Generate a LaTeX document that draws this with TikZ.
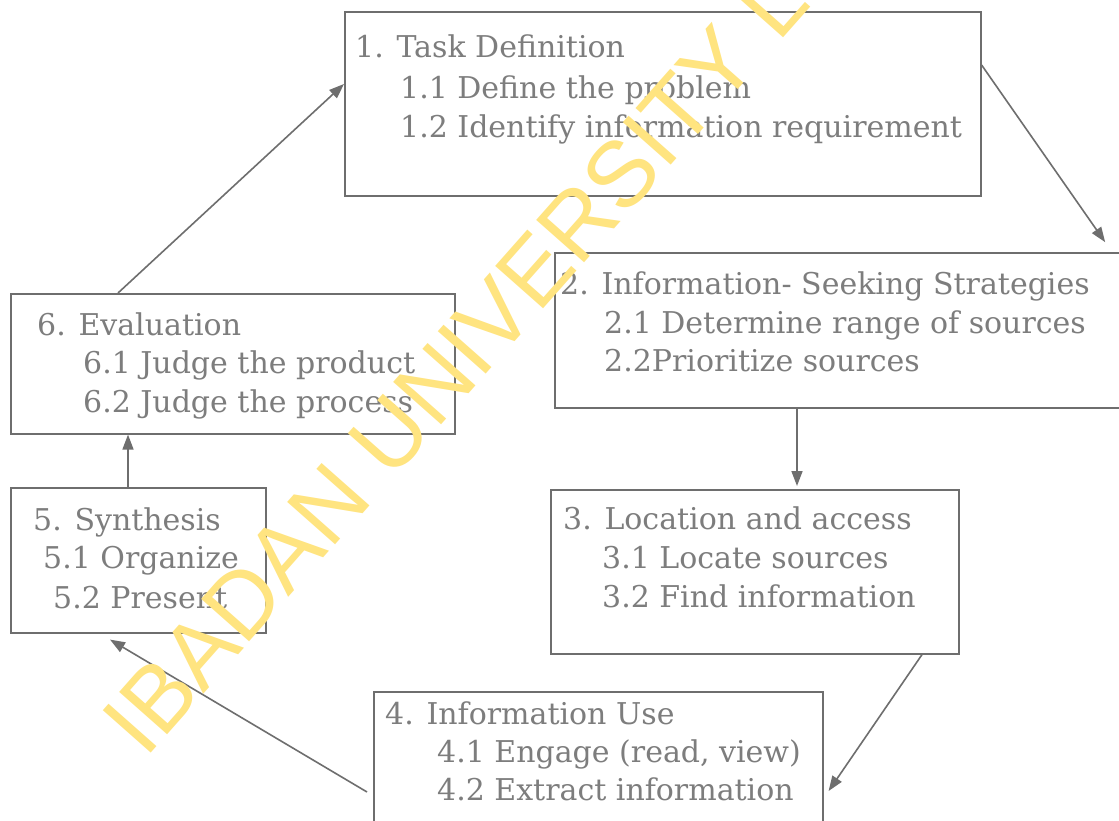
\documentclass[tikz,border=0pt]{standalone}
\usepackage{fontspec}
\setmainfont{DejaVu Serif}
\newfontfamily\wmfont{Liberation Sans}
\usetikzlibrary{calc,arrows.meta}
\definecolor{txtgray}{RGB}{125,125,125}
\definecolor{linegray}{RGB}{110,110,110}
\definecolor{wmyellow}{RGB}{255,228,128}
\begin{document}
\begin{tikzpicture}[x=1pt,y=-1pt,
  box/.style={draw=linegray,line width=1.6pt,inner sep=0pt,anchor=north west},
  txt/.style={text=txtgray,inner sep=0pt,anchor=base west,font=\fontsize{30}{30}\selectfont},
  arr/.style={draw=linegray,line width=1.6pt,-{Triangle[length=15pt,width=11pt]}},
  wm/.style={text=wmyellow,inner sep=0pt,anchor=base west,rotate=48.5,font=\wmfont\fontsize{93}{93}\selectfont}
]
\useasboundingbox (0,0) rectangle (1119,821);
\clip (0,0) rectangle (1119,821);
\fill[white] (0,0) rectangle (1119,821);
% boxes
\node[box,minimum width=636pt,minimum height=184pt] (b1) at (344,11) {};
\node[box,minimum width=572pt,minimum height=155pt] (b2) at (554,252) {};
\node[box,minimum width=408pt,minimum height=164pt] (b3) at (550,489) {};
\node[box,minimum width=449pt,minimum height=144pt] (b4) at (373,691) {};
\node[box,minimum width=255pt,minimum height=145pt] (b5) at (10,487) {};
\node[box,minimum width=444pt,minimum height=140pt] (b6) at (10,293) {};
% texts
\node[txt] (t1a) at (355,58) {1. Task Definition};
\node[txt] (t1b) at (400,99) {1.1 Define the problem};
\node[txt] (t1c) at (400,138) {1.2 Identify information requirement};
\node[txt] (t2a) at (560,294) {2. Information- Seeking Strategies};
\node[txt] (t2b) at (604,333) {2.1 Determine range of sources};
\node[txt] (t2c) at (604,371) {2.2Prioritize sources};
\node[txt] (t3a) at (563,529) {3. Location and access};
\node[txt] (t3b) at (602,568) {3.1 Locate sources};
\node[txt] (t3c) at (602,607) {3.2 Find information};
\node[txt] (t4a) at (385,724) {4. Information Use};
\node[txt] (t4b) at (437,762) {4.1 Engage (read, view)};
\node[txt] (t4c) at (437,800) {4.2 Extract information};
\node[txt] (t5a) at (33,530) {5. Synthesis};
\node[txt] (t5b) at (43,568) {5.1 Organize};
\node[txt] (t5c) at (53,608) {5.2 Present};
\node[txt] (t6a) at (37,335) {6. Evaluation};
\node[txt] (t6b) at (83,373) {6.1 Judge the product};
\node[txt] (t6c) at (83,412) {6.2 Judge the process};
% arrows
\draw[arr] ($(b6.north west)+(108,0)$) -- ($(b1.north west)+(0,73)$);
\draw[arr,shorten >=12pt] ($(b1.north east)+(0,54)$) -- ($(b2.north west)+(558,0)$);
\draw[arr,shorten >=3pt] ($(b2.south west)+(243,0)$) -- ($(b3.north west)+(247,0)$);
\draw[arr] ($(b3.south west)+(372,0)$) -- ($(b4.north east)+(5,100)$);
\draw[arr] ($(b4.north west)+(-6,101)$) -- ($(b5.south west)+(100,6)$);
\draw[arr] ($(b5.north west)+(118,0)$) -- ($(b6.south west)+(118,0)$);
% watermark
\node[wm] (wmark) at (145,760) {IBADAN UNIVERSITY L};
\end{tikzpicture}
\end{document}
